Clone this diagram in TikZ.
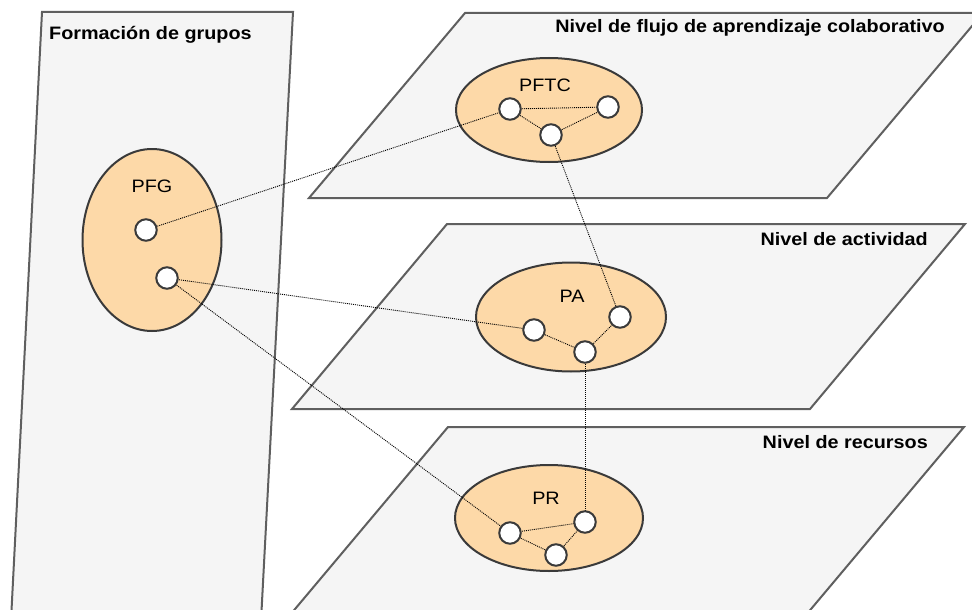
\documentclass[tikz,border=0pt]{standalone}
\usepackage{fontspec}
\setmainfont{Liberation Sans}
\newfontfamily\lblfont[FakeStretch=1.1]{Liberation Sans}
\usetikzlibrary{shapes.geometric}
\definecolor{planefill}{HTML}{F5F5F5}
\definecolor{planeline}{HTML}{5F5F5F}
\definecolor{grpfill}{HTML}{FDD9A8}
\definecolor{grpline}{HTML}{3A3A3A}
\pgfdeclarelayer{front}
\pgfsetlayers{main,front}
\tikzset{
  plane/.style={fill=planefill,draw=planeline,line width=2pt,line join=miter},
  grp/.style={ellipse,fill=grpfill,draw=grpline,line width=2pt,inner sep=0pt},
  member/.style={circle,fill=white,draw=grpline,line width=2pt,minimum size=21.5pt,inner sep=0pt},
  link/.style={black,line width=0.9pt,dash pattern=on 1pt off 1pt},
  title/.style={font=\lblfont\fontsize{18}{20}\selectfont\bfseries,inner sep=0pt},
  grplabel/.style={font=\lblfont\fontsize{18}{20}\selectfont,inner sep=0pt}
}
\begin{document}
\begin{tikzpicture}[x=1pt,y=-1pt]
\useasboundingbox (0,0) rectangle (972,610);
\clip (0,0) rectangle (972,610);
% left panel
\draw[plane] (42,12) -- (293,12) -- (260,640) -- (10,640) -- cycle;
% planes
\draw[plane] (465,13) -- (983,13) -- (827,198) -- (309,198) -- cycle;
\draw[plane] (447,224) -- (965,224) -- (810,409) -- (292,409) -- cycle;
\draw[plane] (448,427) -- (964,427) -- (785,640) -- (269,640) -- cycle;
% titles
\node[title,anchor=west] (tfg) at (49,35) {Formación de grupos};
\node[title,anchor=east] (tflujo) at (945,28) {Nivel de flujo de aprendizaje colaborativo};
\node[title,anchor=east] (tact) at (928,239) {Nivel de actividad};
\node[title,anchor=east] (trec) at (928,442) {Nivel de recursos};
% groups
\node[grp,minimum width=139pt,minimum height=182pt] (pfg) at (152,240) {};
\node[grp,minimum width=186pt,minimum height=104pt] (pftc) at (549,110) {};
\node[grp,minimum width=190pt,minimum height=109pt] (pa) at (571,317) {};
\node[grp,minimum width=188pt,minimum height=106pt] (pr) at (549,518) {};
\node[grplabel] (lpfg) at (152,186) {PFG};
\node[grplabel] (lpftc) at (545,85) {PFTC};
\node[grplabel] (lpa) at (572,296) {PA};
\node[grplabel] (lpr) at (546,498) {PR};
% members (front layer)
\begin{pgfonlayer}{front}
\node[member] (g1) at (146,230) {};
\node[member] (g2) at (167,278) {};
\node[member] (f1) at (510,109) {};
\node[member] (f2) at (608,107) {};
\node[member] (f3) at (551,135) {};
\node[member] (a1) at (534,330) {};
\node[member] (a2) at (620,317) {};
\node[member] (a3) at (585,352) {};
\node[member] (r1) at (510,533) {};
\node[member] (r2) at (585,522) {};
\node[member] (r3) at (556,555) {};
\end{pgfonlayer}
% links
\draw[link] (g1.center) -- (f1.center);
\draw[link] (g2.center) -- (a1.center);
\draw[link] (g2.center) -- (r1.center);
\draw[link] (f3.center) -- (a2.center);
\draw[link] (a3.center) -- (r2.center);
\draw[link] (f1.center) -- (f2.center);
\draw[link] (f1.center) -- (f3.center);
\draw[link] (f3.center) -- (f2.center);
\draw[link] (a1.center) -- (a3.center);
\draw[link] (a3.center) -- (a2.center);
\draw[link] (r1.center) -- (r2.center);
\draw[link] (r1.center) -- (r3.center);
\draw[link] (r3.center) -- (r2.center);
\end{tikzpicture}
\end{document}
